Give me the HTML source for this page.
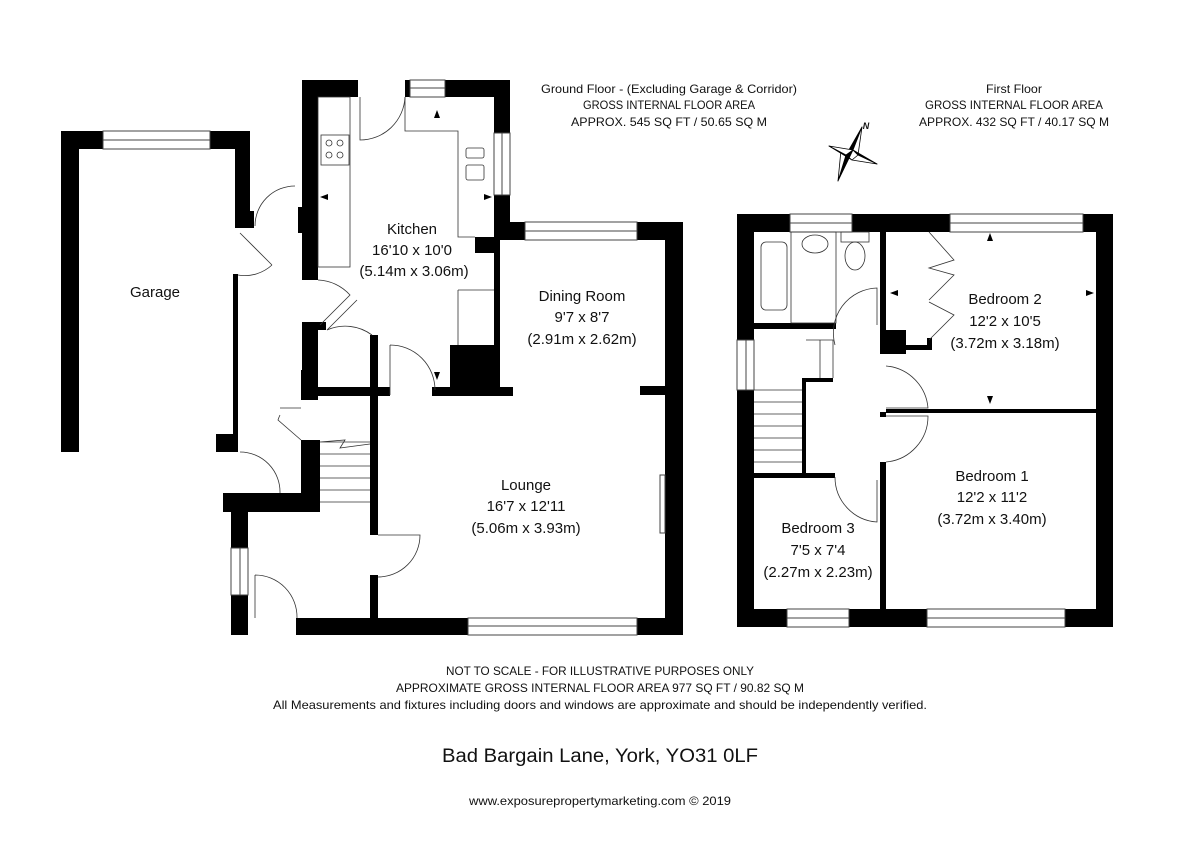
<!DOCTYPE html>
<html><head><meta charset="utf-8"><style>
html,body{margin:0;padding:0;background:#fff;}
svg{display:block;}
text{font-family:"Liberation Sans",sans-serif;fill:#111;}
</style></head><body>
<svg width="1200" height="848" viewBox="0 0 1200 848" xmlns="http://www.w3.org/2000/svg">
<rect width="1200" height="848" fill="#fff"/>
<g fill="#000">
<!-- Garage -->
<rect x="61" y="131" width="18" height="321"/>
<rect x="61" y="131" width="42" height="18"/>
<rect x="210" y="131" width="40" height="18"/>
<rect x="235" y="131" width="15" height="97"/>
<rect x="235" y="211" width="19" height="17"/>
<rect x="233" y="274" width="5" height="178"/>
<rect x="216" y="434" width="22" height="18"/>
<rect x="61" y="434" width="18" height="18"/>
<!-- Kitchen -->
<rect x="302" y="80" width="16" height="200"/>
<rect x="302" y="80" width="56" height="17"/>
<rect x="405" y="80" width="5" height="17"/>
<rect x="445" y="80" width="65" height="17"/>
<rect x="494" y="80" width="16" height="53"/>
<rect x="494" y="195" width="16" height="43"/>
<rect x="475" y="237" width="19" height="16"/>
<rect x="494" y="222" width="31" height="18"/>
<rect x="298" y="207" width="6" height="26"/>
<!-- Dining / lounge -->
<rect x="637" y="222" width="46" height="18"/>
<rect x="665" y="222" width="18" height="413"/>
<rect x="296" y="618" width="172" height="17"/>
<rect x="637" y="618" width="46" height="17"/>
<rect x="640" y="386" width="30" height="9"/>
<rect x="432" y="387" width="81" height="9"/>
<rect x="450" y="345" width="47" height="50"/>
<rect x="494" y="240" width="6" height="150"/>
<rect x="318" y="387" width="72" height="9"/>
<rect x="302" y="322" width="16" height="74"/>
<rect x="318" y="322" width="8" height="8"/>
<rect x="370" y="335" width="8" height="60"/>
<rect x="370" y="390" width="8" height="145"/>
<rect x="370" y="575" width="8" height="50"/>
<!-- Hall -->
<rect x="301" y="440" width="19" height="72"/>
<rect x="223" y="493" width="97" height="19"/>
<rect x="231" y="493" width="17" height="55"/>
<rect x="231" y="595" width="17" height="40"/>
<rect x="301" y="370" width="17" height="30"/>
<!-- First floor outer -->
<rect x="737" y="214" width="53" height="18"/>
<rect x="852" y="214" width="98" height="18"/>
<rect x="1083" y="214" width="30" height="18"/>
<rect x="737" y="214" width="17" height="126"/>
<rect x="737" y="390" width="17" height="237"/>
<rect x="1096" y="214" width="17" height="413"/>
<rect x="737" y="609" width="50" height="18"/>
<rect x="849" y="609" width="78" height="18"/>
<rect x="1065" y="609" width="48" height="18"/>
<!-- internal -->
<rect x="880" y="232" width="6" height="108"/>
<rect x="880" y="330" width="26" height="24"/>
<rect x="906" y="345" width="25" height="5"/>
<rect x="927" y="338" width="5" height="12"/>
<rect x="880" y="412" width="6" height="5"/>
<rect x="886" y="409" width="210" height="4"/>
<rect x="880" y="462" width="6" height="147"/>
<rect x="754" y="323" width="82" height="6"/>
<rect x="802" y="378" width="4" height="99"/>
<rect x="802" y="378" width="31" height="4"/>
<rect x="754" y="473" width="81" height="5"/>
</g>
<!-- windows -->
<g fill="none" stroke="#444" stroke-width="1">
<rect x="103" y="131" width="107" height="18"/><line x1="103" y1="140" x2="210" y2="140"/>
<rect x="410" y="80" width="35" height="17"/><line x1="410" y1="88" x2="445" y2="88"/>
<rect x="494" y="133" width="16" height="62"/><line x1="502" y1="133" x2="502" y2="195"/>
<rect x="525" y="222" width="112" height="18"/><line x1="525" y1="231" x2="637" y2="231"/>
<rect x="468" y="618" width="169" height="17"/><line x1="468" y1="626" x2="637" y2="626"/>
<rect x="231" y="548" width="17" height="47"/><line x1="240" y1="548" x2="240" y2="595"/>
<rect x="790" y="214" width="62" height="18"/><line x1="790" y1="223" x2="852" y2="223"/>
<rect x="950" y="214" width="133" height="18"/><line x1="950" y1="223" x2="1083" y2="223"/>
<rect x="737" y="340" width="17" height="50"/><line x1="746" y1="340" x2="746" y2="390"/>
<rect x="787" y="609" width="62" height="18"/><line x1="787" y1="618" x2="849" y2="618"/>
<rect x="927" y="609" width="138" height="18"/><line x1="927" y1="618" x2="1065" y2="618"/>
<rect x="660" y="475" width="5" height="58"/>
</g>
<!-- fixtures & doors -->
<g fill="none" stroke="#333" stroke-width="0.8">
<rect x="318" y="97" width="32" height="170"/>
<rect x="321" y="135" width="28" height="30"/>
<circle cx="329" cy="143" r="3"/><circle cx="340" cy="143" r="3"/><circle cx="329" cy="155" r="3"/><circle cx="340" cy="155" r="3"/>
<path d="M405 97 V131 H458 V237 H475"/>
<path d="M458 290 H494 M458 290 V345"/>
<rect x="466" y="148" width="18" height="10" rx="2"/><rect x="466" y="165" width="18" height="15" rx="2"/>
<path d="M360 97 V140 A45 45 0 0 0 405 97"/>
<path d="M295 186 A40 40 0 0 0 255 226"/>
<path d="M240 233 L272 265 M238 275 A40 40 0 0 0 272 265"/>
<path d="M318 280 A45 45 0 0 1 350 295 L320 325 M357 300 L327 330 A45 45 0 0 1 372 335"/>
<path d="M390 345 V395 M390 345 A45 45 0 0 1 435 390"/>
<path d="M280 415 A40 40 0 0 0 278 420 L301 440 M301 408 H280"/>
<path d="M320 442 H370 M320 454 H370 M320 466 H370 M320 478 H370 M320 490 H370 M320 502 H370 M320 442 L345 440 L340 448 L370 444"/>
<path d="M240 452 A40 40 0 0 1 280 493"/>
<path d="M378 535 H420 A42 42 0 0 1 378 577"/>
<path d="M255 575 V618 M255 575 A42 42 0 0 1 297 618"/>
<rect x="761" y="242" width="26" height="68" rx="5"/>
<rect x="791" y="232" width="45" height="91"/>
<ellipse cx="815" cy="244" rx="13" ry="9"/>
<rect x="841" y="232" width="28" height="10"/><ellipse cx="855" cy="256" rx="10" ry="14"/>
<path d="M806 340 H833 V378 M820 340 V378 M835 345 A45 45 0 0 1 877 288 V325"/>
<path d="M754 390 H802 M754 402 H802 M754 414 H802 M754 426 H802 M754 438 H802 M754 450 H802 M754 462 H802"/>
<path d="M886 408 H928 A46 46 0 0 0 886 366 M886 416 H928 A46 46 0 0 1 886 462"/>
<path d="M835 477 A45 45 0 0 0 877 522 V480"/>
<path d="M929 232 L954 260 L929 268 L954 275 L929 300 M929 302 L954 315 L929 340"/>
</g>
<g fill="#000">
<path d="M437 110 L434 118 L440 118Z"/><path d="M320 197 L328 194 L328 200Z"/><path d="M492 197 L484 194 L484 200Z"/><path d="M434 372 L440 372 L437 380Z"/>
<path d="M990 233 L987 241 L993 241Z"/><path d="M990 404 L987 396 L993 396Z"/><path d="M890 293 L898 290 L898 296Z"/><path d="M1094 293 L1086 290 L1086 296Z"/>
</g>
<!-- compass -->
<g stroke="#000" stroke-width="0.8" stroke-linejoin="round">
<polygon points="862,127 853,150 846,155" fill="#000"/>
<polygon points="862,127 853,150 858,155" fill="#fff"/>
<polygon points="838,181 846,155 853,150" fill="#000"/>
<polygon points="838,181 846,155 841,150" fill="#fff"/>
<polygon points="877,164 858,155 853,150" fill="#000"/>
<polygon points="877,164 858,155 852,160" fill="#fff"/>
<polygon points="829,146 846,155 852,160" fill="#000"/>
<polygon points="829,146 846,155 853,150" fill="#fff"/>
</g>
<g font-size="15" text-anchor="middle">
<text x="155" y="297">Garage</text>
<text x="412" y="234">Kitchen</text><text x="412" y="255">16'10 x 10'0</text><text x="414" y="276">(5.14m x 3.06m)</text>
<text x="582" y="301">Dining Room</text><text x="582" y="322">9'7 x 8'7</text><text x="582" y="344">(2.91m x 2.62m)</text>
<text x="526" y="490">Lounge</text><text x="526" y="511">16'7 x 12'11</text><text x="526" y="533">(5.06m x 3.93m)</text>
<text x="1005" y="304">Bedroom 2</text><text x="1005" y="326">12'2 x 10'5</text><text x="1005" y="348">(3.72m x 3.18m)</text>
<text x="992" y="481">Bedroom 1</text><text x="992" y="502">12'2 x 11'2</text><text x="992" y="524">(3.72m x 3.40m)</text>
<text x="818" y="533">Bedroom 3</text><text x="818" y="555">7'5 x 7'4</text><text x="818" y="577">(2.27m x 2.23m)</text>
</g>
<g font-size="12" text-anchor="middle">
<text x="669" y="93" textLength="256" lengthAdjust="spacingAndGlyphs">Ground Floor - (Excluding Garage &amp; Corridor)</text>
<text x="669" y="109" textLength="172" lengthAdjust="spacingAndGlyphs">GROSS INTERNAL FLOOR AREA</text>
<text x="669" y="126" textLength="196" lengthAdjust="spacingAndGlyphs">APPROX. 545 SQ FT / 50.65 SQ M</text>
<text x="1014" y="93" textLength="56" lengthAdjust="spacingAndGlyphs">First Floor</text>
<text x="1014" y="109" textLength="178" lengthAdjust="spacingAndGlyphs">GROSS INTERNAL FLOOR AREA</text>
<text x="1014" y="126" textLength="190" lengthAdjust="spacingAndGlyphs">APPROX. 432 SQ FT / 40.17 SQ M</text>
<text x="866" y="129" font-size="9" font-style="italic" font-weight="bold">N</text>
<text x="600" y="675" textLength="308" lengthAdjust="spacingAndGlyphs">NOT TO SCALE - FOR ILLUSTRATIVE PURPOSES ONLY</text>
<text x="600" y="692" textLength="408" lengthAdjust="spacingAndGlyphs">APPROXIMATE GROSS INTERNAL FLOOR AREA 977 SQ FT / 90.82 SQ M</text>
<text x="600" y="709" textLength="654" lengthAdjust="spacingAndGlyphs">All Measurements and fixtures including doors and windows are approximate and should be independently verified.</text>
<text x="600" y="762" font-size="19" textLength="316" lengthAdjust="spacingAndGlyphs">Bad Bargain Lane, York, YO31 0LF</text>
<text x="600" y="805" textLength="262" lengthAdjust="spacingAndGlyphs">www.exposurepropertymarketing.com © 2019</text>
</g>
</svg>
</body></html>
